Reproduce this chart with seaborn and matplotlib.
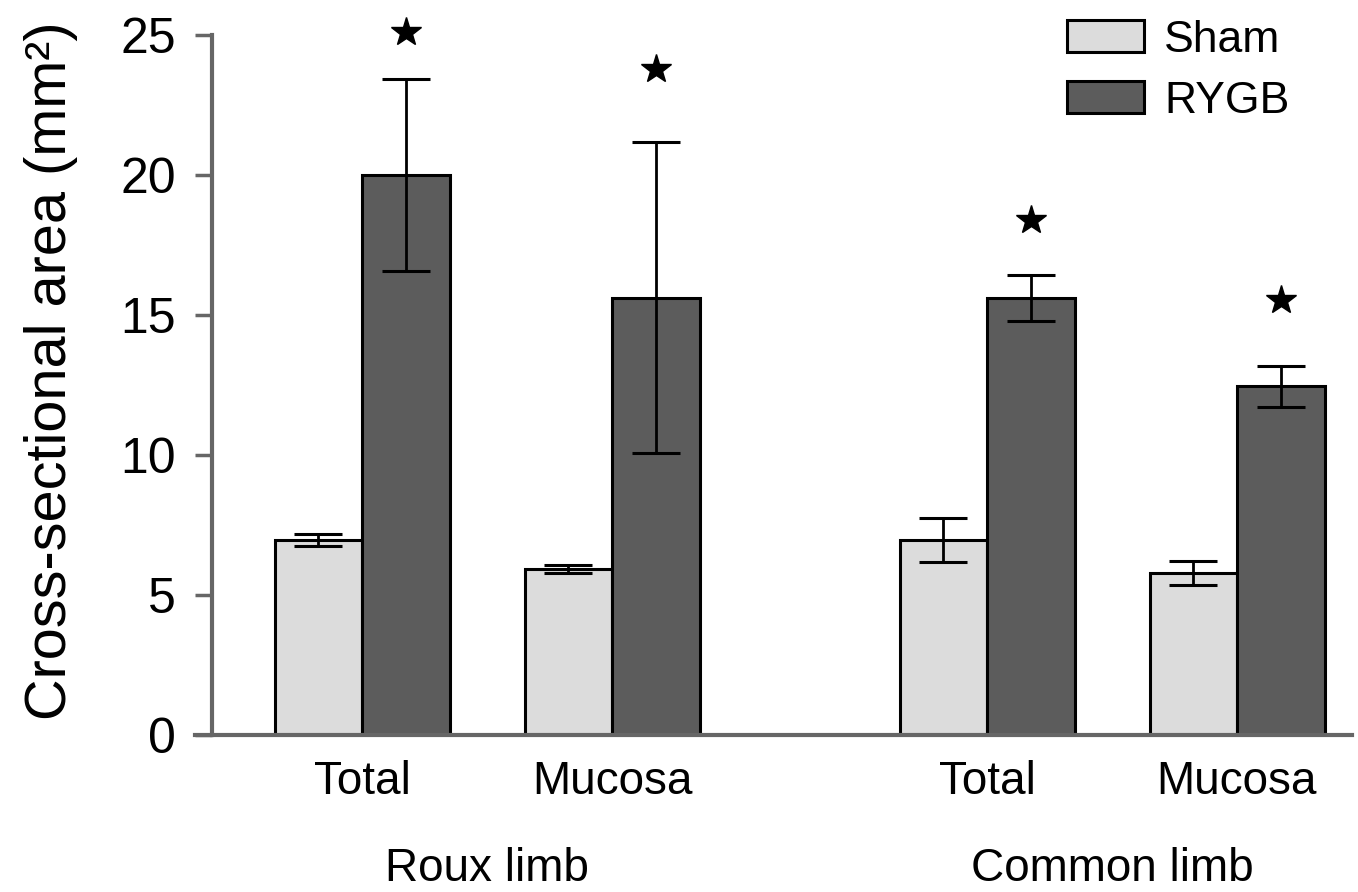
import numpy as np
import pandas as pd
import matplotlib
matplotlib.use("Agg")
import matplotlib.pyplot as plt
import matplotlib.transforms as mtransforms
from matplotlib.patches import Patch
import seaborn as sns

# ---- data ----
categories = ["Total", "Mucosa", "Total", "Mucosa"]
positions = [0.0, 1.0, 2.5, 3.5]
limb_labels = ["Roux limb", "Common limb"]
limb_centers = [0.5, 3.0]
groups = ["Sham", "RYGB"]
sham_mean = [6.96, 5.92, 6.96, 5.79]
sham_err = [0.22, 0.14, 0.78, 0.44]
rygb_mean = [20.0, 15.62, 15.62, 12.45]
rygb_err = [3.43, 5.55, 0.82, 0.72]
star_y = [25.1, 23.8, 18.4, 15.55]
yticks = [0, 5, 10, 15, 20, 25]

colors = {"Sham": "#dcdcdc", "RYGB": "#5c5c5c"}
axis_gray = "#666666"

df = pd.DataFrame({
    "pos": positions * 2,
    "value": sham_mean + rygb_mean,
    "err": sham_err + rygb_err,
    "group": ["Sham"] * 4 + ["RYGB"] * 4,
})

sns.set_style("ticks")
plt.rcParams["font.family"] = ["Liberation Sans", "DejaVu Sans"]
plt.rcParams["text.color"] = "black"
plt.rcParams["axes.labelcolor"] = "black"
plt.rcParams["xtick.color"] = "black"
plt.rcParams["ytick.color"] = "black"

fig = plt.figure(figsize=(13.58, 8.92), dpi=100)
ax = fig.add_axes([195 / 1358, 1 - 735 / 892, (1352 - 195) / 1358, (735 - 35) / 892])

sns.barplot(data=df, x="pos", y="value", hue="group", hue_order=groups,
            palette=colors, native_scale=True, width=0.7, errorbar=None,
            edgecolor="black", linewidth=2.2, legend=False, ax=ax, zorder=2)

# axis frame first (set_position resets the ticks)
for s in ["top", "right"]:
    ax.spines[s].set_visible(False)
ax.spines["left"].set_position(("data", -0.6))
for s in ["left", "bottom"]:
    ax.spines[s].set_color(axis_gray)
    ax.spines[s].set_linewidth(3)

# error bars at the bar centres
for p in ax.patches:
    cx = p.get_x() + p.get_width() / 2
    h = p.get_height()
    idx = int(np.argmin([abs(cx - q) for q in positions]))
    e = sham_err[idx] if cx < positions[idx] else rygb_err[idx]
    ax.errorbar([cx], [h], yerr=[e], fmt="none", ecolor="black",
                elinewidth=2, capsize=17, capthick=2.2, zorder=3)

# significance stars above RYGB bars
star_x = []
for p in ax.patches:
    cx = p.get_x() + p.get_width() / 2
    idx = int(np.argmin([abs(cx - q) for q in positions]))
    if cx > positions[idx]:
        star_x.append((positions[idx], cx))
star_x = [c for _, c in sorted(star_x)]
ax.plot(star_x, star_y, linestyle="none", marker="*", markersize=22,
        color="black", clip_on=False, zorder=4)

ax.set_xlim(-0.668, 3.96)
ax.set_ylim(0, 25)
ax.set_yticks(yticks)
ax.set_yticklabels([str(t) for t in yticks])
ax.set_xticks(positions)
ax.set_xticklabels(categories)
ax.set_xlabel("")
ax.tick_params(axis="x", length=0, pad=18, labelsize=33)
ax.tick_params(axis="y", length=12, width=2.5, color=axis_gray, pad=14,
               labelsize=36)
ax.set_ylabel("Cross-sectional area (mm²)", fontsize=41.5)
ax.yaxis.set_label_coords(-0.101, 0.52)

trans = mtransforms.blended_transform_factory(ax.transData, fig.transFigure)
for lab, c in zip(limb_labels, limb_centers):
    ax.text(c, 1 - 881 / 892, lab, transform=trans, ha="center",
            va="baseline", fontsize=33)

handles = [Patch(facecolor=colors[g], edgecolor="black", linewidth=2.2) for g in groups]
fig.legend(handles, groups, loc="upper left",
           bbox_to_anchor=(1067 / 1358, 1 - 20 / 892), frameon=False,
           fontsize=32, handlelength=1.73, handleheight=0.73,
           labelspacing=0.45, handletextpad=0.45, borderpad=0, borderaxespad=0)

fig.savefig("out.png", dpi=100)
